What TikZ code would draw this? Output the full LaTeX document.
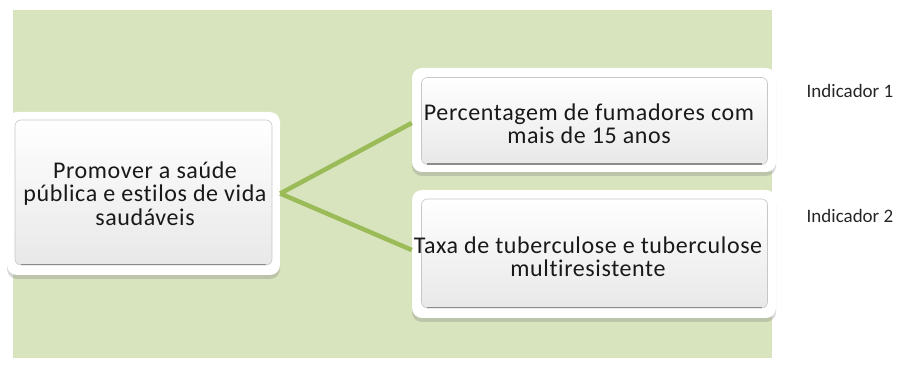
\documentclass[tikz,border=0pt]{standalone}
\usepackage{fontspec}
\setmainfont{Carlito}[Ligatures=NoCommon]
\usetikzlibrary{shadows}
\definecolor{bggreen}{HTML}{D7E4BD}
\definecolor{linegreen}{HTML}{9BBB59}
\begin{document}
\begin{tikzpicture}[x=1pt,y=-1pt,
  outerbox/.style={rectangle, rounded corners=10pt, fill=white, inner sep=0pt,
    drop shadow={shadow xshift=0pt,shadow yshift=-4pt,opacity=0.3,fill=black!50}},
  innerbox/.style={rectangle, rounded corners=6pt, top color=white, bottom color=black!9,
    draw=black!22, line width=0.6pt, inner sep=0pt},
  txt/.style={align=center, inner sep=0pt, font=\fontsize{24}{23.3}\selectfont\addfontfeature{LetterSpace=2.5}, text=black!90},
  ind/.style={inner sep=0pt, anchor=base, font=\fontsize{19}{22}\selectfont, text=black!85},
  conn/.style={draw=linegreen, line width=4.5pt}]
\useasboundingbox (0,0) rectangle (906,371);
\fill[bggreen] (13,10) rectangle (772,358);

\node[outerbox, minimum width=273pt, minimum height=163pt] (L) at (143.5,193.5) {};
\node[innerbox, minimum width=257pt, minimum height=145pt] (Li) at (143.5,192.5) {};
\draw[black!45, line width=1.2pt] ([xshift=6pt,yshift=0.8pt]Li.south west) -- ([xshift=-6pt,yshift=0.8pt]Li.south east);
\node[txt] (Lt) at (145,193.5) {Promover a saúde\\pública e estilos de vida\\saudáveis};

\node[outerbox, minimum width=364pt, minimum height=104pt] (T) at (594,120) {};
\node[innerbox, minimum width=346pt, minimum height=87pt] (Ti) at (594.5,121) {};
\draw[black!45, line width=1.2pt] ([xshift=6pt,yshift=0.8pt]Ti.south west) -- ([xshift=-6pt,yshift=0.8pt]Ti.south east);
\node[txt] (Tt) at (589,124) {Percentagem de fumadores com\\mais de 15 anos};

\node[outerbox, minimum width=364pt, minimum height=128pt] (B) at (594,254) {};
\node[innerbox, minimum width=346pt, minimum height=109pt] (Bi) at (594.5,253.5) {};
\draw[black!45, line width=1.2pt] ([xshift=6pt,yshift=0.8pt]Bi.south west) -- ([xshift=-6pt,yshift=0.8pt]Bi.south east);
\node[txt] (Bt) at (588,256.8) {Taxa de tuberculose e tuberculose\\multiresistente};

\draw[conn] (L.east) -- ([yshift=-3pt]T.west);
\draw[conn] (L.east) -- ([yshift=4pt]B.west);

\node[ind] (I1) at (850,97.3) {Indicador 1};
\node[ind] (I2) at (850,223) {Indicador 2};
\end{tikzpicture}
\end{document}
